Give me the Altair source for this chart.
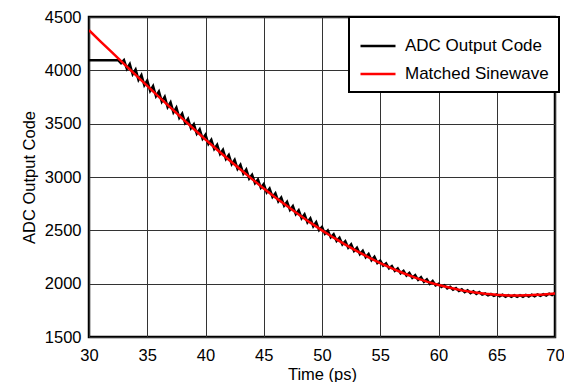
import altair as alt
import pandas as pd

# Matched sinewave, sampled every 1 ps from 30 ps to 70 ps
red_t0 = 30.0
red_dt = 1.0
red_codes = [4376, 4270, 4166, 4061, 3957, 3854, 3751, 3650, 3549, 3450,
             3351, 3256, 3162, 3070, 2980, 2893, 2808, 2727, 2648, 2572,
             2500, 2431, 2366, 2305, 2247, 2193, 2143, 2098, 2057, 2019,
             1988, 1961, 1937, 1919, 1905, 1895, 1890, 1890, 1893, 1899,
             1908]

# ADC output code, sampled every 0.25 ps from 30 ps to 70 ps
adc_t0 = 30.0
adc_dt = 0.25
adc_codes = [4095, 4095, 4095, 4095, 4095, 4095, 4095, 4095, 4095, 4095,
             4095, 4067, 4095, 4015, 4059, 3963, 4007, 3911, 3956, 3860,
             3904, 3808, 3853, 3757, 3801, 3706, 3751, 3655, 3700, 3605,
             3650, 3554, 3594, 3506, 3545, 3457, 3495, 3407, 3446, 3358,
             3396, 3309, 3349, 3262, 3301, 3215, 3254, 3168, 3207, 3121,
             3161, 3075, 3115, 3030, 3070, 2985, 3020, 2942, 2977, 2899,
             2933, 2856, 2891, 2813, 2848, 2772, 2808, 2731, 2767, 2691,
             2728, 2652, 2688, 2613, 2650, 2575, 2612, 2538, 2576, 2502,
             2532, 2469, 2498, 2434, 2463, 2401, 2431, 2368, 2398, 2337,
             2368, 2306, 2337, 2277, 2308, 2248, 2279, 2220, 2252, 2193,
             2215, 2169, 2190, 2144, 2165, 2120, 2143, 2097, 2120, 2076,
             2100, 2055, 2079, 2036, 2060, 2017, 2041, 1999, 2026, 1984,
             1998, 1969, 1985, 1956, 1971, 1943, 1959, 1931, 1947, 1921,
             1938, 1912, 1929, 1904, 1922, 1897, 1908, 1890, 1903, 1885,
             1898, 1881, 1896, 1878, 1893, 1877, 1893, 1877, 1893, 1878,
             1895, 1879, 1896, 1882, 1899, 1885, 1902, 1888, 1907, 1893,
             1911]

series_names = ["ADC Output Code", "Matched Sinewave"]
series_colors = ["#000000", "#ff0000"]

x_ticks = [30, 35, 40, 45, 50, 55, 60, 65, 70]
y_ticks = [1500, 2000, 2500, 3000, 3500, 4000, 4500]

adc_df = pd.DataFrame({
    "t": [adc_t0 + adc_dt * i for i in range(len(adc_codes))],
    "code": adc_codes,
    "series": series_names[0],
})
red_df = pd.DataFrame({
    "t": [red_t0 + red_dt * i for i in range(len(red_codes))],
    "code": red_codes,
    "series": series_names[1],
})

FONT = "Liberation Sans"

x_enc = alt.X("t:Q", scale=alt.Scale(domain=[30, 70], nice=False),
              axis=alt.Axis(values=x_ticks, title="Time (ps)", format="d",
                            labelFlush=False))
y_enc = alt.Y("code:Q", scale=alt.Scale(domain=[1500, 4500], nice=False),
              axis=alt.Axis(values=y_ticks, title="ADC Output Code", format="d",
                            labelFlush=False))
color_enc = alt.Color(
    "series:N",
    scale=alt.Scale(domain=series_names, range=series_colors),
    legend=alt.Legend(
        title=None, orient="none", legendX=260, legendY=0,
        symbolType="stroke", symbolSize=1225, symbolStrokeWidth=2.5,
        labelFontSize=17, labelFont=FONT, labelColor="black",
        labelOffset=8, rowPadding=1, padding=10,
        strokeColor="black", fillColor="white",
    ),
)

black = alt.Chart(adc_df).mark_line(strokeWidth=2.5, clip=True).encode(
    x=x_enc, y=y_enc, color=color_enc
)
red = alt.Chart(red_df).mark_line(strokeWidth=2.5, clip=True).encode(
    x=x_enc, y=y_enc, color=color_enc
)

chart = (
    alt.layer(black, red)
    .properties(
        width=466, height=320,
        padding={"left": 81, "top": 9, "right": 9, "bottom": 45},
        autosize="none",
        background="white",
    )
    .configure_view(stroke="black", strokeWidth=2.5)
    .configure_axis(
        domain=False, ticks=False, grid=True, gridColor="#333333",
        gridWidth=1, gridOpacity=1,
        labelFont=FONT, labelFontSize=16.5, labelColor="black",
        titleFont=FONT, titleFontSize=16.5, titleColor="black",
        titleFontWeight="normal",
    )
    .configure_axisX(labelPadding=10, titlePadding=3)
    .configure_axisY(labelPadding=8, titlePadding=7)
    .configure_legend(strokeWidth=2)
)

chart.save("out.html", embed_options={"renderer": "svg", "actions": False})
